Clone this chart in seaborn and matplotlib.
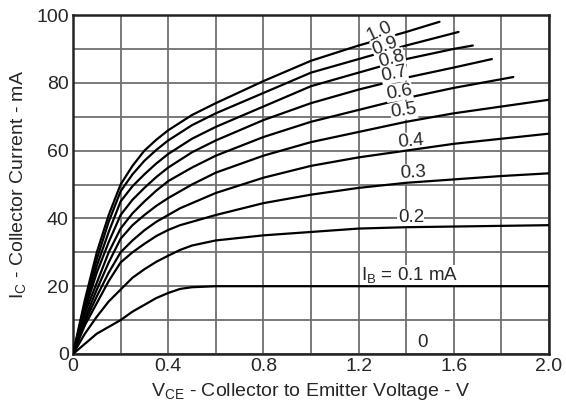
import numpy as np
import pandas as pd
import seaborn as sns
import matplotlib
matplotlib.use("Agg")
import matplotlib.pyplot as plt
from matplotlib.ticker import MultipleLocator

# Collector characteristics, values
vce_full = [0, 0.05, 0.1, 0.15, 0.2, 0.25, 0.3, 0.35, 0.4, 0.45, 0.5, 0.6, 0.8, 1.0, 1.2, 1.4, 1.6, 1.8, 2.0]

ic_0_1 = [0, 3, 6, 8, 10, 12.5, 14.5, 16.5, 18, 19.2, 19.7, 20, 20, 20, 20, 20, 20, 20, 20]
ic_0_2 = [0, 6, 11, 15.5, 19, 22.5, 25, 27.2, 29, 30.7, 32, 33.5, 35, 36, 37, 37.4, 37.6, 37.8, 38]
ic_0_3 = [0, 8.5, 15, 21.5, 27, 30, 32.5, 34.8, 36.6, 38, 39, 41, 44.5, 47, 49, 50.5, 51.5, 52.5, 53.3]
ic_0_4 = [0, 9.5, 17, 24, 30, 33.5, 36.5, 39, 41, 43, 44.5, 47.5, 52, 55.5, 58, 60, 62, 63.5, 65]
ic_0_5 = [0, 10.5, 19, 27, 34, 38, 41, 43.7, 46, 48, 50, 53.5, 58.5, 62.5, 65.5, 68.5, 71, 73, 75]

vce_06 = [0, 0.05, 0.1, 0.15, 0.2, 0.25, 0.3, 0.35, 0.4, 0.5, 0.6, 0.8, 1.0, 1.2, 1.4, 1.6, 1.85]
ic_0_6 = [0, 12, 21, 30, 37, 41.5, 45, 48.2, 51, 55, 58.5, 64, 68.5, 72, 75.5, 78.5, 81.7]

vce_07 = [0, 0.05, 0.1, 0.15, 0.2, 0.25, 0.3, 0.35, 0.4, 0.5, 0.6, 0.8, 1.0, 1.2, 1.4, 1.6, 1.76]
ic_0_7 = [0, 13, 24, 33, 41, 45.5, 49, 52.2, 55, 59.5, 63, 69, 74, 78, 81.5, 84.5, 87]

vce_08 = [0, 0.05, 0.1, 0.15, 0.2, 0.25, 0.3, 0.35, 0.4, 0.5, 0.6, 0.8, 1.0, 1.2, 1.4, 1.6, 1.68]
ic_0_8 = [0, 14, 26, 36, 45, 49.5, 53, 56.2, 59, 63.5, 67, 73, 79, 83, 87, 90, 91]

vce_09 = [0, 0.05, 0.1, 0.15, 0.2, 0.25, 0.3, 0.35, 0.4, 0.5, 0.6, 0.8, 1.0, 1.2, 1.4, 1.62]
ic_0_9 = [0, 15, 28, 39, 48, 53, 57, 60.2, 63, 67.5, 71, 77, 83, 87, 91, 95]

vce_10 = [0, 0.05, 0.1, 0.15, 0.2, 0.25, 0.3, 0.35, 0.4, 0.5, 0.6, 0.8, 1.0, 1.2, 1.4, 1.54]
ic_1_0 = [0, 16, 30, 41, 50, 55.5, 60, 63.2, 66, 70.5, 74, 80.5, 86.5, 91, 95, 98]

curves = [
    (vce_full, ic_0_1), (vce_full, ic_0_2), (vce_full, ic_0_3),
    (vce_full, ic_0_4), (vce_full, ic_0_5), (vce_06, ic_0_6),
    (vce_07, ic_0_7), (vce_08, ic_0_8), (vce_09, ic_0_9), (vce_10, ic_1_0),
]

# curve labels: text, x, y, angle
labels = ["1.0", "0.9", "0.8", "0.7", "0.6", "0.5", "0.4", "0.3", "0.2",
          r"$\mathregular{I_B}$ = 0.1 mA", "0"]
label_x = [1.29, 1.31, 1.34, 1.35, 1.37, 1.39, 1.42, 1.43, 1.42, 1.416, 1.47]
label_y = [95.3, 90.9, 87.0, 82.6, 77.3, 71.7, 62.8, 53.5, 40.3, 23.2, 3.5]
label_rot = [25, 20, 16, 12, 10, 8, 5, 3, 0, 0, 0]
label_top = [True, True, True, True, True, True, False, False, False, False, False]

sns.set_style("white")
plt.rcParams["font.family"] = ["Liberation Sans", "DejaVu Sans"]
plt.rcParams["mathtext.fontset"] = "custom"
plt.rcParams["mathtext.rm"] = "Liberation Sans"

fig = plt.figure(figsize=(5.66, 4.11), dpi=100)
ax = fig.add_axes([73 / 566, 1 - 354 / 411, 476 / 566, 339 / 411])

for xs, ys in curves:
    sns.lineplot(x=xs, y=ys, ax=ax, color="black", linewidth=1.6,
                 estimator=None, sort=False, zorder=3)

for t, x, y, r, top in zip(labels, label_x, label_y, label_rot, label_top):
    ax.text(x, y, t, fontsize=13.5, rotation=r, ha="center", va="center",
            rotation_mode="anchor", zorder=4 if top else 2,
            bbox=dict(facecolor="white", edgecolor="none", pad=0.3))

ax.set_xlim(0, 2.0)
ax.set_ylim(0, 100)
ax.xaxis.set_major_locator(MultipleLocator(0.4))
ax.xaxis.set_minor_locator(MultipleLocator(0.2))
ax.yaxis.set_major_locator(MultipleLocator(20))
ax.yaxis.set_minor_locator(MultipleLocator(10))
ax.set_xticks([0, 0.4, 0.8, 1.2, 1.6, 2.0])
ax.set_xticklabels(["0", "0.4", "0.8", "1.2", "1.6", "2.0"])
ax.grid(which="both", color="#707070", linewidth=1.3, zorder=1)
ax.set_axisbelow(True)
ax.tick_params(which="both", length=0, labelsize=14, pad=3)

for s in ax.spines.values():
    s.set_color("#222222")
    s.set_linewidth(1.8)

ax.set_xlabel(r"$\mathregular{V_{CE}}$ - Collector to Emitter Voltage - V", fontsize=14, labelpad=4)
ax.set_ylabel(r"$\mathregular{I_C}$ - Collector Current - mA", fontsize=14, labelpad=6)

plt.savefig("out.png", dpi=100)
plt.close()
